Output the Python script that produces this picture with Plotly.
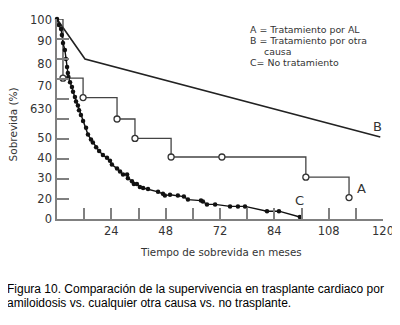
import plotly.graph_objects as go

# ---- data (axis units: x 0..120 uniform grid, y 0..100 uniform grid) ----
b_x = [0, 10.3, 119]
b_y = [100, 80, 41]

a_x = [0, 2.2, 9.6, 22.1, 28.7, 42.0, 91.6, 107.5]
a_y = [100, 70.4, 60.7, 50.0, 40.3, 31.0, 20.9, 10.7]
a_cens_x = [60.7]
a_cens_y = [31.0]

c_x = [0, 0.7, 1.5, 1.8, 2.2, 2.9, 3.3, 3.7, 4.0, 4.2, 4.8, 5.5, 5.9, 6.6, 7.0, 7.7,
       8.1, 8.8, 9.6, 10.7, 11.4, 12.5, 13.2, 14.4, 15.5, 16.9, 18.4, 19.5, 20.2,
       22.1, 23.2, 24.3, 25.8, 26.1, 27.6, 28.3, 29.4, 30.5, 31.7, 33.5, 37.2, 39.0,
       39.7, 41.6, 44.5, 46.7, 48.2, 53.0, 53.7, 55.2, 58.2, 63.7, 66.6, 69.2, 77.3,
       81.7, 89.4]
c_y = [100, 97, 95, 92, 88, 84.5, 80, 76, 73, 71, 68.4, 66, 63.6, 61, 58.7, 56.8,
       54.4, 52, 49, 45.6, 42.2, 39.8, 38.3, 35.9, 34, 32, 30.6, 29.1, 27.2,
       25.2, 23.8, 22.3, 22.3, 20.4, 18.9, 17.5, 17.5, 16, 15.5, 15, 13.6, 12.6,
       11.7, 12.1, 11.7, 11.2, 9.7, 9.2, 8.7, 7.3, 7.3, 6.3, 6.3, 6.3, 3.9,
       3.9, 1]

x_tick_vals = [10, 20, 30, 40, 50, 60, 70, 80, 90, 100, 110, 120]
x_tick_text = ["", "24", "", "48", "", "72", "", "84", "", "108", "", "120"]
y_tick_vals = [0, 10, 20, 30, 40, 50, 60, 70, 80, 90, 100]
y_label_vals = [0, 10.2, 20.4, 30.6, 40.3, 55, 66.5, 77.7, 89, 99.6]
y_label_text = ["0", "20", "30", "40", "50", "630", "70", "80", "90", "100"]

legend_lines = ["A = Tratamiento por AL", "B = Tratamiento por otra",
                "causa", "C= No tratamiento"]
caption_lines = ["Figura 10. Comparación de la supervivencia en trasplante cardiaco por",
                 "amiloidosis vs. cualquier otra causa vs. no trasplante."]

FONT = "DejaVu Sans"
TXT = "#333333"
AX = "#808080"

fig = go.Figure()

fig.add_trace(go.Scatter(x=b_x, y=b_y, mode="lines",
                         line=dict(color="#222222", width=1.6),
                         showlegend=False, cliponaxis=False))
fig.add_trace(go.Scatter(x=a_x, y=a_y, mode="lines", line_shape="hv",
                         line=dict(color="#444444", width=1.3),
                         showlegend=False, cliponaxis=False))
fig.add_trace(go.Scatter(x=a_x[1:] + a_cens_x, y=a_y[1:] + a_cens_y, mode="markers",
                         marker=dict(symbol="circle", size=6, color="white",
                                     line=dict(color="#333333", width=1.3)),
                         showlegend=False, cliponaxis=False))
fig.add_trace(go.Scatter(x=c_x, y=c_y, mode="lines+markers",
                         line=dict(color="#111111", width=1.4),
                         marker=dict(size=4.5, color="#111111"),
                         showlegend=False, cliponaxis=False))
# invisible trace on the label axis
fig.add_trace(go.Scatter(x=[0], y=[0], yaxis="y2", mode="markers",
                         marker=dict(opacity=0), showlegend=False, hoverinfo="skip"))

# page body has an 8px margin: figure is offset by (8, 8)
fig.update_layout(
    width=392, height=317,
    margin=dict(l=49, r=17, t=5, b=106),
    paper_bgcolor="white", plot_bgcolor="white",
    font=dict(family=FONT, color=TXT),
    xaxis=dict(range=[0, 120], tickvals=x_tick_vals, ticktext=x_tick_text,
               ticks="inside", ticklen=11, tickwidth=1.5, tickcolor=AX,
               showline=True, linecolor=AX, linewidth=1.5, showgrid=False,
               zeroline=False, ticklabeloverflow="allow",
               tickfont=dict(size=11.5, color=TXT, family=FONT)),
    yaxis=dict(range=[0, 100], tickvals=y_tick_vals, showticklabels=False,
               ticks="inside", ticklen=12, tickwidth=1.5, tickcolor=AX,
               showline=True, linecolor=AX, linewidth=1.5, showgrid=False,
               zeroline=False),
    yaxis2=dict(range=[0, 100], overlaying="y", side="left", tickvals=y_label_vals,
                ticktext=y_label_text, ticks="", showline=False, showgrid=False,
                zeroline=False, ticklabeloverflow="allow", ticklabelstandoff=4,
                tickfont=dict(size=11.5, color=TXT, family=FONT)),
)

ann = []
ann.append(dict(text="Sobrevida (%)", xref="paper", yref="paper", x=-0.135, y=0.473,
                textangle=-90, showarrow=False, font=dict(size=10.5, color=TXT, family=FONT),
                xanchor="center", yanchor="middle"))
ann.append(dict(text="Tiempo de sobrevida en meses", xref="paper", yref="paper",
                x=0.503, y=-0.165, showarrow=False,
                font=dict(size=10.3, color=TXT, family=FONT),
                xanchor="center", yanchor="middle"))
leg_x = [0.586, 0.586, 0.629, 0.586]
leg_y = [0.947, 0.891, 0.837, 0.784]
for t, xx, yy in zip(legend_lines, leg_x, leg_y):
    ann.append(dict(text=t, xref="paper", yref="paper", x=xx, y=yy, showarrow=False,
                    xanchor="left", yanchor="middle",
                    font=dict(size=9.4, color=TXT, family=FONT)))
ann.append(dict(text="A", x=111.9, y=15.5, showarrow=False,
                font=dict(size=13, color=TXT, family=FONT)))
ann.append(dict(text="B", x=118.1, y=46.1, showarrow=False,
                font=dict(size=13, color=TXT, family=FONT)))
ann.append(dict(text="C", x=89.4, y=9.2, showarrow=False,
                font=dict(size=13, color=TXT, family=FONT)))
cap_y = [-0.352, -0.421]
for t, yy in zip(caption_lines, cap_y):
    ann.append(dict(text=t, xref="paper", yref="paper", x=-0.16, y=yy, showarrow=False,
                    xanchor="left", yanchor="middle",
                    font=dict(size=12, color="#000000", family="Liberation Sans")))
fig.update_layout(annotations=ann)

fig.write_html("out.html")
